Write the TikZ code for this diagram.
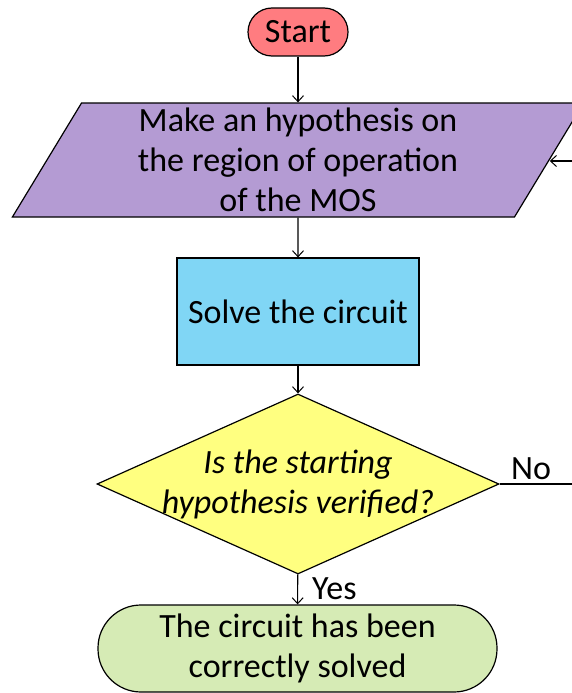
\documentclass[tikz,border=0pt]{standalone}
\usepackage{fontspec}
\setmainfont{Carlito}
\usetikzlibrary{shapes.geometric,arrows.meta}
\definecolor{startc}{HTML}{FF7C80}
\definecolor{hypc}{HTML}{B49BD3}
\definecolor{solvec}{HTML}{80D6F5}
\definecolor{decc}{HTML}{FFFF80}
\definecolor{endc}{HTML}{D6EBB5}
\tikzset{
  box/.style={draw=black, line width=1.2pt, align=center, inner sep=0pt,
    font=\fontsize{34}{40}\selectfont},
  conn/.style={line width=1.1pt, -{Straight Barb[length=6pt,width=11pt,line width=1pt]}},
  plain/.style={line width=1.1pt},
  lbl/.style={font=\fontsize{34}{40}\selectfont, inner sep=0pt}
}
\begin{document}
\begin{tikzpicture}[x=1pt,y=-1pt]
\useasboundingbox (0,0) rectangle (572,693);
\clip (0,0) rectangle (572,693);
\node[box, fill=startc, rounded corners=24pt, minimum width=100pt, minimum height=48pt] (start) at (298,32) {Start};
\node[box, fill=hypc, trapezium, trapezium left angle=63.8, trapezium right angle=116.2,
  trapezium stretches=true, minimum width=572pt, minimum height=114pt] (hyp) at (298,160)
  {Make an hypothesis on\\the region of operation\\of the MOS};
\node[box, fill=solvec, minimum width=242pt, minimum height=107pt] (solve) at (298,311.5) {Solve the circuit};
\node[box, fill=decc, diamond, shape aspect=2.233, minimum width=402pt, minimum height=180pt] (dec) at (298,484) {};
\node[lbl, align=center, font=\fontsize{34}{40}\selectfont\itshape] (dectext) at (dec.center) {Is the starting\\hypothesis verified?};
\node[box, fill=endc, rounded corners=43pt, minimum width=399pt, minimum height=87pt] (end) at (297.5,648.5)
  {The circuit has been\\correctly solved};
\coordinate (noend) at (575,484);
\coordinate (backin) at (575,161);
\draw[conn] (start) -- (hyp);
\draw[conn] (hyp) -- (solve);
\draw[conn] (solve) -- (dec);
\draw[conn] (dec) -- (end);
\draw[plain] (dec.east) -- (noend);
\draw[conn] (backin) -- (hyp.east |- backin);
\node[lbl, anchor=base west] (no) at (511,479) {No};
\node[lbl, anchor=base west] (yes) at (312,599) {Yes};
\end{tikzpicture}
\end{document}
